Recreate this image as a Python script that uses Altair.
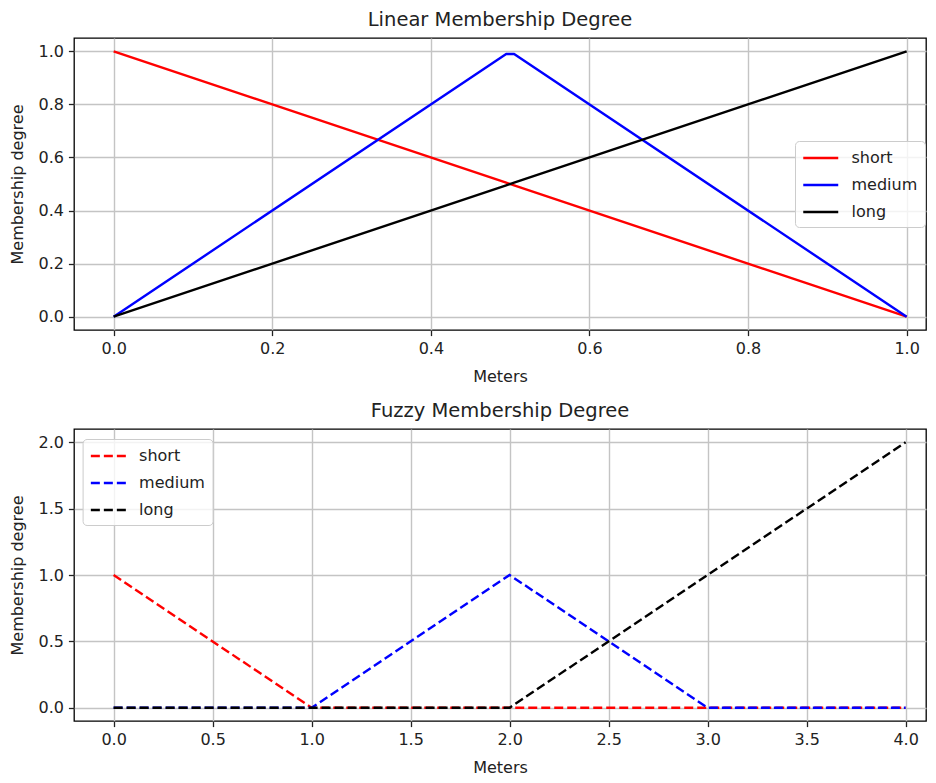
import altair as alt
import pandas as pd

# ---- data ----
series = ["short", "medium", "long"]
colors = ["#ff0000", "#0000ff", "#000000"]

lin_x = [0.0, 0.495, 0.505, 1.0]
lin_short = [1.0, 0.505, 0.495, 0.0]
lin_medium = [0.0, 0.99, 0.99, 0.0]
lin_long = [0.0, 0.495, 0.505, 1.0]

fz_x = [0, 1, 2, 3, 4]
fz_short = [1, 0, 0, 0, 0]
fz_medium = [0, 0, 1, 0, 0]
fz_long = [0, 0, 0, 1, 2]

lin_ticks = [0.0, 0.2, 0.4, 0.6, 0.8, 1.0]
fz_xticks = [0.0, 0.5, 1.0, 1.5, 2.0, 2.5, 3.0, 3.5, 4.0]
fz_yticks = [0.0, 0.5, 1.0, 1.5, 2.0]

rows = []
for name, vals in zip(series, [lin_short, lin_medium, lin_long]):
    for i, (x, y) in enumerate(zip(lin_x, vals)):
        rows.append({"series": name, "x": x, "y": y, "i": i})
lin_df = pd.DataFrame(rows)

rows = []
for name, vals in zip(series, [fz_short, fz_medium, fz_long]):
    for i, (x, y) in enumerate(zip(fz_x, vals)):
        rows.append({"series": name, "x": x, "y": y, "i": i})
fz_df = pd.DataFrame(rows)

FONT = "DejaVu Sans"
W, H = 852, 292

color_scale = alt.Scale(domain=series, range=colors)

def xaxis(values, title):
    return alt.Axis(values=values, format=".1f", title=title, titlePadding=12)

def yaxis(values, title):
    return alt.Axis(values=values, format=".1f", title=title, titlePadding=12)

legend_common = dict(
    orient="none",
    title=None,
    symbolType="M-1,0H3",
    symbolSize=306,
    symbolStrokeWidth=2.4,
    labelFontSize=16,
    labelFont=FONT,
    labelColor="#222222",
    labelOffset=29.5,
    rowPadding=9,
    padding=7,
    fillColor="rgba(255,255,255,0.8)",
    strokeColor="#cccccc",
    cornerRadius=4,
)

top = (
    alt.Chart(lin_df)
    .mark_line(strokeWidth=2.4, strokeJoin="round")
    .encode(
        x=alt.X("x:Q", scale=alt.Scale(domain=[-0.05, 1.0244], nice=False, zero=False),
                axis=xaxis(lin_ticks, "Meters")),
        y=alt.Y("y:Q", scale=alt.Scale(domain=[-0.05, 1.05], nice=False, zero=False),
                axis=yaxis(lin_ticks, "Membership degree")),
        color=alt.Color("series:N", scale=color_scale,
                        legend=alt.Legend(legendX=721, legendY=103, **legend_common)),
        order="i:Q",
    )
    .properties(width=W, height=H, title="Linear Membership Degree")
)

bottom = (
    alt.Chart(fz_df)
    .mark_line(strokeWidth=2.4, strokeDash=[9, 4])
    .encode(
        x=alt.X("x:Q", scale=alt.Scale(domain=[-0.2, 4.103], nice=False, zero=False),
                axis=xaxis(fz_xticks, "Meters")),
        y=alt.Y("y:Q", scale=alt.Scale(domain=[-0.1, 2.1], nice=False, zero=False),
                axis=yaxis(fz_yticks, "Membership degree")),
        color=alt.Color("series:N", scale=color_scale,
                        legend=alt.Legend(legendX=8.6, legendY=10, symbolDash=[9, 4],
                                          **legend_common)),
        order="i:Q",
    )
    .properties(width=W, height=H, title="Fuzzy Membership Degree")
)

chart = (
    alt.vconcat(top, bottom, spacing=13)
    .resolve_scale(color="independent", x="independent", y="independent")
    .resolve_legend(color="independent")
    .properties(padding={"left": 1, "top": 0, "right": 0, "bottom": 0})
    .configure_view(stroke="#000000", strokeWidth=1.3)
    .configure_axis(
        grid=True,
        gridColor="#c4c4c4",
        gridWidth=1.4,
        domain=False,
        ticks=True,
        tickSize=5.6,
        tickWidth=1.3,
        tickColor="#222222",
        labelPadding=5,
        labelFont=FONT,
        labelFontSize=16,
        labelColor="#222222",
        titleFont=FONT,
        titleFontSize=16,
        titleFontWeight="normal",
        titleColor="#222222",
    )
    .configure_title(font=FONT, fontSize=19.5, fontWeight="normal", color="#222222",
                     offset=8, anchor="middle")
)

chart.save("out.html", embed_options={"renderer": "svg", "actions": False})
